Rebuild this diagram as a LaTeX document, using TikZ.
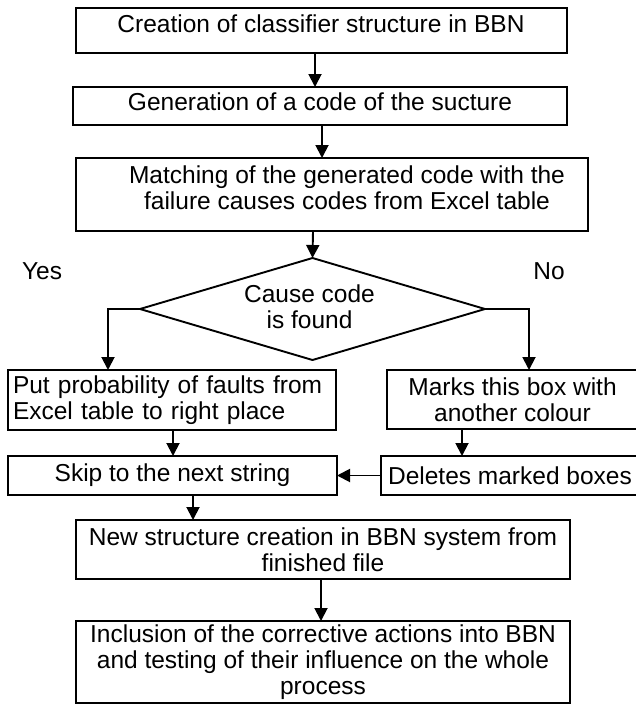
\documentclass[tikz,border=0pt]{standalone}
\usepackage{fontspec}
\setmainfont{Liberation Sans}
\usetikzlibrary{shapes.geometric,arrows.meta}
\begin{document}
\begin{tikzpicture}[x=1pt,y=-1pt,
  every node/.style={font=\fontsize{24.5}{26}\selectfont},
  box/.style={draw, line width=1.9pt, rectangle, inner sep=0pt, outer sep=0pt, align=center},
  txt/.style={inner sep=0pt, outer sep=0pt, align=center},
  decision/.style={draw, line width=1.9pt, diamond, inner sep=0pt, outer sep=0pt},
  arr/.style={line width=1.9pt, -{Triangle[length=13pt,width=13pt]}},
  ]
\useasboundingbox (0,0) rectangle (636,704);
\clip (0,0) rectangle (636,704);

% process boxes
\node[box, minimum width=491pt, minimum height=45pt] (b1) at (321.5,30.5) {};
\node[txt] (t1) at (321,24) {Creation of classifier structure in BBN};

\node[box, minimum width=494pt, minimum height=38pt] (b2) at (320,106) {};
\node[txt] (t2) at (320,102) {Generation of a code of the sucture};

\node[box, minimum width=512pt, minimum height=73pt] (b3) at (332,194.5) {};
\node[txt] (t3) at (347,188) {Matching of the generated code with the\\failure causes codes from Excel table};

% decision
\node[decision, minimum width=345pt, minimum height=102pt] (dec) at (312.5,309) {};
\node[txt] (tdec) at (309.5,307) {Cause code\\is found};
\node[txt] (yes) at (42,271) {Yes};
\node[txt] (no) at (549,271) {No};

% branches
\node[box, minimum width=328pt, minimum height=60pt, text width=318pt, align=left] (b4) at (172,400)
  {Put probability of faults from\\Excel table to right place};
\node[box, minimum width=251pt, minimum height=59pt] (b5) at (512.5,399.5)
  {Marks this box with\\another colour};
\node[box, minimum width=329pt, minimum height=39pt] (b6) at (172.5,475.5) {Skip to the next string};
\node[box, minimum width=258pt, minimum height=39pt] (b7) at (510,475.5) {Deletes marked boxes};

% final steps
\node[box, minimum width=494pt, minimum height=59pt] (b8) at (323,549.5)
  {New structure creation in BBN system from\\finished file};
\node[box, minimum width=494pt, minimum height=82pt] (b9) at (323,662)
  {Inclusion of the corrective actions into BBN\\and testing of their influence on the whole\\process};

% connectors
\draw[arr] ([xshift=-6.5pt]b1.south) -- ([xshift=-5pt]b2.north);
\draw[arr] ([xshift=2pt]b2.south) -- ([xshift=-10pt]b3.north);
\draw[arr] ([xshift=-19pt]b3.south) -- (dec.north);
\draw[arr] (dec.west) -| ([xshift=-64pt]b4.north);
\draw[arr] (dec.east) -| ([xshift=16.5pt]b5.north);
\draw[arr] ([xshift=1pt]b4.south) -- ([xshift=1pt]b4.south |- b6.north);
\draw[arr] ([xshift=-50.5pt]b5.south) -- ([xshift=-50.5pt]b5.south |- b7.north);
\draw[arr] (b7.west) -- (b6.east);
\draw[arr] ([xshift=20.5pt]b6.south) -- ([xshift=20.5pt]b6.south |- b8.north);
\draw[arr] ([xshift=-2pt]b8.south) -- ([xshift=-2pt]b8.south |- b9.north);
\end{tikzpicture}
\end{document}
